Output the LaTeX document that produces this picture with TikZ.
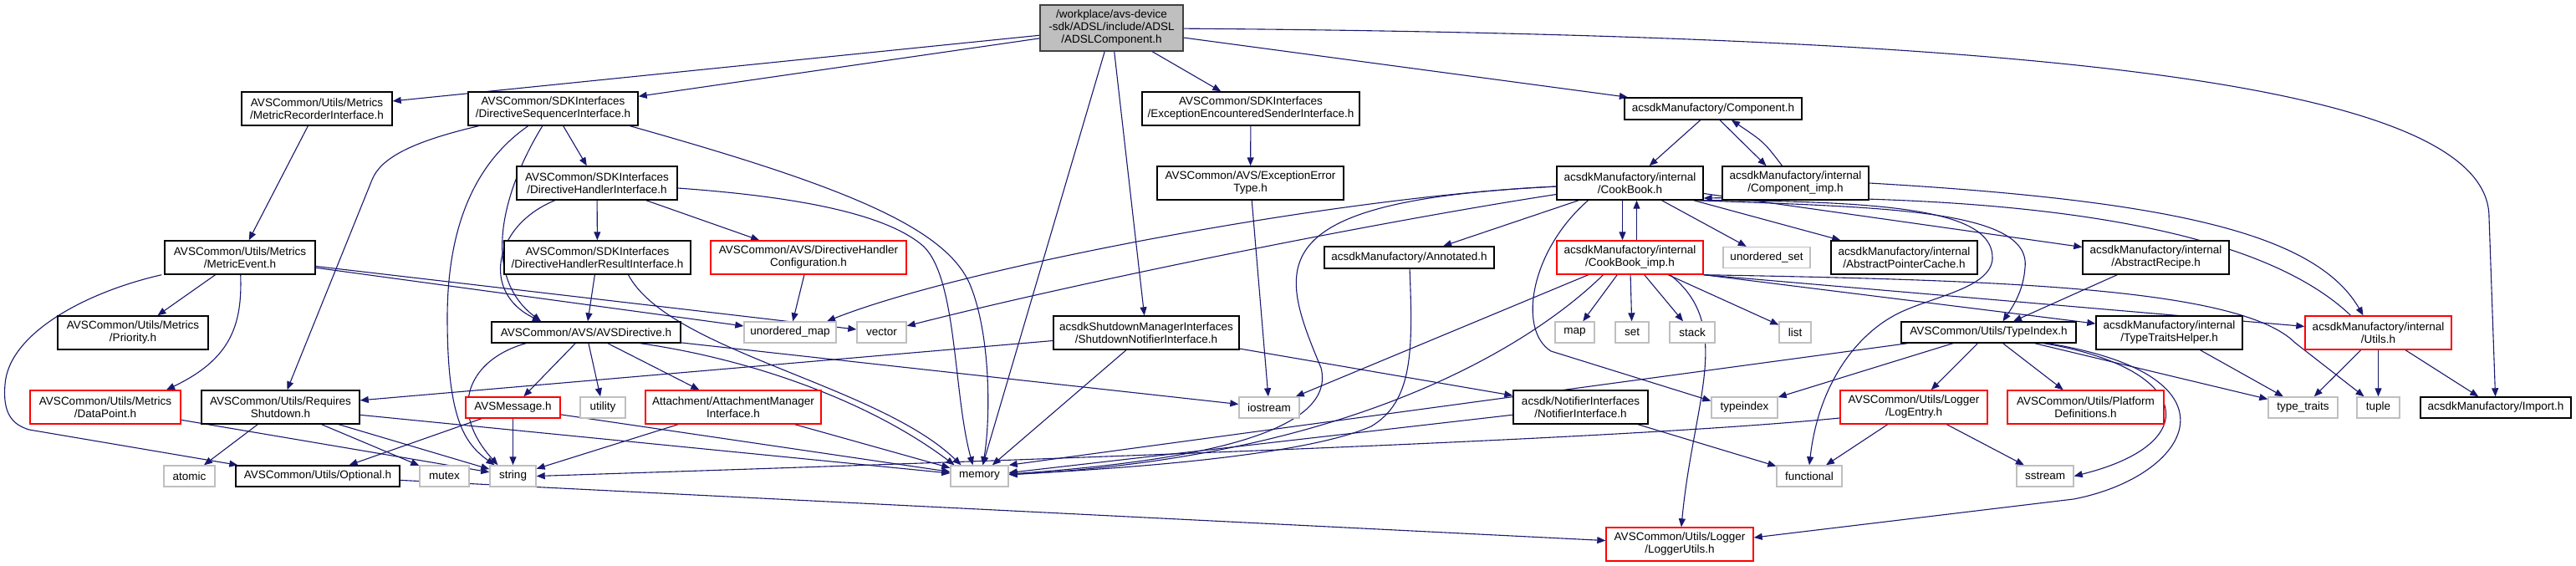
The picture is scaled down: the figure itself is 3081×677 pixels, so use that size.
\documentclass[tikz,border=0pt]{standalone}
\usepackage{fontspec}
\setmainfont{Liberation Sans}
\usetikzlibrary{arrows.meta}
\definecolor{edgeblue}{HTML}{191970}
\definecolor{graybd}{HTML}{BFBFBF}
\definecolor{rootfill}{HTML}{BFBFBF}
\definecolor{rootbd}{HTML}{404040}
\pgfdeclarelayer{bg}
\pgfsetlayers{bg,main}
\tikzset{
  base/.style={rectangle, inner sep=0pt, align=center, font=\fontsize{13.5pt}{15pt}\selectfont, line width=1.4pt, fill=white},
  fnode/.style={base, draw=black},
  rnode/.style={base, draw=red},
  gnode/.style={base, draw=graybd},
  rootn/.style={base, draw=rootbd, fill=rootfill},
  dep/.style={draw=edgeblue, line width=1.1pt, -{Triangle[length=10pt,width=8pt]}}
}
\begin{document}
\begin{tikzpicture}[x=1pt,y=-1pt]
\useasboundingbox (0,0) rectangle (3081,677);
% row 0
\node[rootn, minimum width=171pt, minimum height=55pt] (root) at (1329.5,33.5) {/workplace/avs-device\\-sdk/ADSL/include/ADSL\\/ADSLComponent.h};
% row 1
\node[fnode, minimum width=180pt, minimum height=40pt] (mri) at (379,130) {AVSCommon/Utils/Metrics\\/MetricRecorderInterface.h};
\node[fnode, minimum width=203pt, minimum height=40pt] (dsi) at (661.5,130) {AVSCommon/SDKInterfaces\\/DirectiveSequencerInterface.h};
\node[fnode, minimum width=260pt, minimum height=40pt] (eesi) at (1496,130) {AVSCommon/SDKInterfaces\\/ExceptionEncounteredSenderInterface.h};
\node[fnode, minimum width=212pt, minimum height=26pt] (comp) at (2049,130) {acsdkManufactory/Component.h};
% row 2
\node[fnode, minimum width=192pt, minimum height=40pt] (dhi) at (714,219) {AVSCommon/SDKInterfaces\\/DirectiveHandlerInterface.h};
\node[fnode, minimum width=223pt, minimum height=40pt] (eet) at (1495.5,219) {AVSCommon/AVS/ExceptionError\\Type.h};
\node[fnode, minimum width=175pt, minimum height=40pt] (cookbook) at (1949.5,219) {acsdkManufactory/internal\\/CookBook.h};
\node[fnode, minimum width=175pt, minimum height=40pt] (compimp) at (2147.5,219) {acsdkManufactory/internal\\/Component\_imp.h};
% row 3
\node[fnode, minimum width=180pt, minimum height=40pt] (mev) at (287,308) {AVSCommon/Utils/Metrics\\/MetricEvent.h};
\node[fnode, minimum width=223pt, minimum height=40pt] (dhri) at (714.5,308) {AVSCommon/SDKInterfaces\\/DirectiveHandlerResultInterface.h};
\node[rnode, minimum width=234pt, minimum height=40pt] (dhc) at (967,308) {AVSCommon/AVS/DirectiveHandler\\Configuration.h};
\node[fnode, minimum width=203pt, minimum height=26pt] (annot) at (1685.5,308) {acsdkManufactory/Annotated.h};
\node[rnode, minimum width=175pt, minimum height=40pt] (cbimp) at (1949.5,308) {acsdkManufactory/internal\\/CookBook\_imp.h};
\node[gnode, minimum width=104pt, minimum height=25pt] (uset) at (2113,308) {unordered\_set};
\node[fnode, minimum width=175pt, minimum height=40pt] (apc) at (2277.5,308) {acsdkManufactory/internal\\/AbstractPointerCache.h};
\node[fnode, minimum width=175pt, minimum height=40pt] (arec) at (2578.5,308) {acsdkManufactory/internal\\/AbstractRecipe.h};
% row 4
\node[fnode, minimum width=180pt, minimum height=40pt] (prio) at (159,398) {AVSCommon/Utils/Metrics\\/Priority.h};
\node[fnode, minimum width=226pt, minimum height=25pt] (avsdir) at (701,397.5) {AVSCommon/AVS/AVSDirective.h};
\node[gnode, minimum width=110pt, minimum height=25pt] (umap) at (945,397.5) {unordered\_map};
\node[gnode, minimum width=59pt, minimum height=25pt] (vector) at (1054.5,397.5) {vector};
\node[fnode, minimum width=222pt, minimum height=40pt] (sni) at (1371,398) {acsdkShutdownManagerInterfaces\\/ShutdownNotifierInterface.h};
\node[gnode, minimum width=47pt, minimum height=25pt] (map) at (1883.5,397.5) {map};
\node[gnode, minimum width=40pt, minimum height=25pt] (set) at (1952,397.5) {set};
\node[gnode, minimum width=54pt, minimum height=25pt] (stack) at (2024,397.5) {stack};
\node[gnode, minimum width=38pt, minimum height=25pt] (list) at (2147,397.5) {list};
\node[fnode, minimum width=209pt, minimum height=25pt] (typeidx) at (2378.5,397.5) {AVSCommon/Utils/TypeIndex.h};
\node[fnode, minimum width=175pt, minimum height=40pt] (tth) at (2594.5,398) {acsdkManufactory/internal\\/TypeTraitsHelper.h};
\node[rnode, minimum width=175pt, minimum height=40pt] (utils) at (2844.5,398) {acsdkManufactory/internal\\/Utils.h};
% row 5
\node[rnode, minimum width=180pt, minimum height=40pt] (datap) at (126,487) {AVSCommon/Utils/Metrics\\/DataPoint.h};
\node[fnode, minimum width=189pt, minimum height=40pt] (rs) at (335.5,487) {AVSCommon/Utils/Requires\\Shutdown.h};
\node[rnode, minimum width=113pt, minimum height=25pt] (avsmsg) at (613.5,487.5) {AVSMessage.h};
\node[gnode, minimum width=54pt, minimum height=25pt] (utility) at (721,487.5) {utility};
\node[rnode, minimum width=210pt, minimum height=40pt] (attach) at (877,487) {Attachment/AttachmentManager\\Interface.h};
\node[gnode, minimum width=72pt, minimum height=25pt] (iostream) at (1518,487.5) {iostream};
\node[fnode, minimum width=161pt, minimum height=40pt] (notif) at (1890.5,487) {acsdk/NotifierInterfaces\\/NotifierInterface.h};
\node[gnode, minimum width=79pt, minimum height=25pt] (typeindex) at (2086.5,487.5) {typeindex};
\node[rnode, minimum width=176pt, minimum height=40pt] (logentry) at (2289,487) {AVSCommon/Utils/Logger\\/LogEntry.h};
\node[rnode, minimum width=187pt, minimum height=40pt] (platdef) at (2494.5,487) {AVSCommon/Utils/Platform\\Definitions.h};
\node[gnode, minimum width=83pt, minimum height=25pt] (ttraits) at (2754.5,487.5) {type\_traits};
\node[gnode, minimum width=51pt, minimum height=25pt] (tuple) at (2844.5,487.5) {tuple};
\node[fnode, minimum width=180pt, minimum height=25pt] (import) at (2985,487.5) {acsdkManufactory/Import.h};
% row 6
\node[gnode, minimum width=61pt, minimum height=25pt] (atomic) at (226.5,569.5) {atomic};
\node[fnode, minimum width=196pt, minimum height=25pt] (optional) at (380,569.5) {AVSCommon/Utils/Optional.h};
\node[gnode, minimum width=59pt, minimum height=25pt] (mutex) at (531.5,569.5) {mutex};
\node[gnode, minimum width=55pt, minimum height=25pt] (string) at (613.5,569.5) {string};
\node[gnode, minimum width=69pt, minimum height=25pt] (memory) at (1171.5,569.5) {memory};
\node[gnode, minimum width=78pt, minimum height=25pt] (functional) at (2164,569.5) {functional};
\node[gnode, minimum width=68pt, minimum height=25pt] (sstream) at (2446,569.5) {sstream};
% row 7
\node[rnode, minimum width=176pt, minimum height=40pt] (loggerutils) at (2009,651) {AVSCommon/Utils/Logger\\/LoggerUtils.h};

\begin{pgfonlayer}{bg}
\fill[white] (0,0) rectangle (3081,677);
% root
\draw[dep] (root) -- (mri);
\draw[dep] (root) -- (dsi);
\draw[dep] (root) -- (memory);
\draw[dep] (root) -- (sni);
\draw[dep] (root) -- (eesi);
\draw[dep] (root) -- (comp);
\draw[dep] (root) .. controls (2450,42) and (2977,100) .. (2977,260) -- (import);
% metrics
\draw[dep] (mri) -- (mev);
\draw[dep] (mev) -- (prio);
\draw[dep] (mev) .. controls (290,390) and (275,430) .. ([xshift=73pt]datap.north);
\draw[dep] ([xshift=-3pt]mev.south west) .. controls (100,350) and (10,400) .. (6,460) .. controls (3,495) and (15,508) .. (35,514) -- ([xshift=3pt]optional.north west);
\draw[dep] (mev) -- (umap);
\draw[dep] (mev) -- (vector);
\draw[dep] (datap) -- (string);
% directive sequencer / handler
\draw[dep] (dsi) -- (dhi);
\draw[dep] (dsi) .. controls (575,190) and (535,260) .. (535,380) .. controls (535,500) and (555,530) .. ([xshift=-22pt]string.north);
\draw[dep] (dsi) .. controls (600,230) and (575,330) .. ([xshift=-54pt]avsdir.north);
\draw[dep] ([xshift=-89pt]dsi.south) .. controls (490,170) and (455,190) .. (445,215) -- ([xshift=8pt]rs.north);
\draw[dep] ([xshift=92pt]dsi.south) .. controls (1000,220) and (1130,270) .. (1160,340) .. controls (1185,400) and (1185,500) .. ([xshift=4pt]memory.north);
\draw[dep] (dhi) -- (dhri);
\draw[dep] (dhi) -- (dhc);
\draw[dep] (dhi) .. controls (590,270) and (575,350) .. ([xshift=-54pt]avsdir.north);
\draw[dep] ([yshift=-6pt]dhi.east) .. controls (950,235) and (1060,255) .. (1105,295) .. controls (1145,335) and (1140,470) .. ([xshift=-8pt]memory.north);
\draw[dep] (dhri) -- (avsdir);
\draw[dep] ([xshift=37pt]dhri.south) .. controls (800,420) and (1050,460) .. ([xshift=-22pt]memory.north);
\draw[dep] (dhc) -- (umap);
% requires shutdown
\draw[dep] (rs) -- (atomic);
\draw[dep] (rs) -- (mutex);
\draw[dep] (rs) -- (string);
\draw[dep] (rs) -- (memory);
% AVSDirective
\draw[dep] ([xshift=-72pt]avsdir.south) .. controls (560,430) and (535,490) .. ([xshift=-18pt]string.north);
\draw[dep] (avsdir) -- (avsmsg);
\draw[dep] (avsdir) -- (utility);
\draw[dep] (avsdir) -- (attach);
\draw[dep] ([xshift=65pt]avsdir.south) .. controls (900,430) and (1040,480) .. ([xshift=-30pt]memory.north);
\draw[dep] (avsdir) -- (iostream);
\draw[dep] (avsmsg) -- (optional);
\draw[dep] (avsmsg) -- (string);
\draw[dep] (avsmsg) -- (memory);
\draw[dep] (attach) -- (string);
\draw[dep] (attach) -- (memory);
\draw[dep] (optional) -- (loggerutils);
% shutdown / exception
\draw[dep] (sni) -- (rs);
\draw[dep] (sni) -- (memory);
\draw[dep] (sni) -- (notif);
\draw[dep] (eesi) -- (eet);
\draw[dep] (eet) -- (iostream);
% component
\draw[dep] (comp) -- (cookbook);
\draw[dep] ([xshift=8pt]comp.south) -- ([xshift=-35pt]compimp.north);
\draw[dep] ([xshift=-16pt]compimp.north) .. controls (2110,170) .. ([xshift=22pt]comp.south);
\draw[dep] (compimp.east) .. controls (2600,240) and (2770,280) .. ([xshift=-18pt]utils.north);
% cookbook
\draw[dep] ([xshift=-9pt]cookbook.south) -- ([xshift=-9pt]cbimp.north);
\draw[dep] ([xshift=8pt]cbimp.north) -- ([xshift=8pt]cookbook.south);
\draw[dep] (cookbook) .. controls (1600,235) and (1150,320) .. ([xshift=44pt]umap.north);
\draw[dep] (cookbook) .. controls (1650,265) and (1300,335) .. (vector);
\draw[dep] (cookbook) .. controls (1500,240) and (1530,320) .. (1580,440) .. controls (1600,520) and (1420,552) .. (memory);
\draw[dep] (cookbook) -- (annot);
\draw[dep] ([xshift=-50pt]cookbook.south) .. controls (1830,300) and (1815,395) .. (1855,420) -- ([yshift=8pt]typeindex.west);
\draw[dep] (cookbook) -- (uset);
\draw[dep] (cookbook) -- (apc);
\draw[dep] (cookbook) -- (arec);
\draw[dep] ([xshift=-8pt]cookbook.south east) .. controls (2250,248) and (2430,250) .. (2422,320) .. controls (2420,350) and (2405,370) .. ([xshift=17pt]typeidx.north);
\draw[dep] ([xshift=-4pt]cookbook.south east) .. controls (2280,240) and (2385,255) .. (2383,310) .. controls (2380,345) and (2310,355) .. (2270,375) .. controls (2220,400) and (2175,460) .. (functional.north);
\draw[dep] ([xshift=-33pt]utils.north) .. controls (2720,290) and (2500,230) .. ([yshift=-18pt]cookbook.east);
% cookbook_imp
\draw[dep] (cbimp) -- (iostream);
\draw[dep] ([xshift=-32pt]cbimp.south) .. controls (1845,400) and (1640,545) .. (memory);
\draw[dep] (cbimp) -- (map);
\draw[dep] (cbimp) -- (set);
\draw[dep] (cbimp) -- (stack);
\draw[dep] (cbimp) -- (list);
\draw[dep] ([xshift=48pt]cbimp.south) .. controls (2075,390) and (2025,480) .. (loggerutils);
\draw[dep] (cbimp.south east) .. controls (2400,335) and (2680,345) .. (2745,410) -- (tuple);
\draw[dep] (cbimp.south east) -- (utils);
\draw[dep] (cbimp.south east) -- (tth);
% annotated / notifier
\draw[dep] (annot) .. controls (1690,420) and (1690,480) .. (1640,510) .. controls (1560,545) and (1350,560) .. (memory);
\draw[dep] (notif) -- (memory);
\draw[dep] (notif) -- (functional);
% type index
\draw[dep] (typeidx) -- (memory.north east);
\draw[dep] (typeidx) -- (logentry);
\draw[dep] (typeidx) -- (platdef);
\draw[dep] (typeidx) -- (typeindex);
\draw[dep] (typeidx) -- (ttraits);
\draw[dep] ([xshift=66pt]typeidx.south) .. controls (2620,440) and (2640,530) .. (sstream.east);
\draw[dep] ([xshift=71pt]typeidx.south) .. controls (2690,450) and (2620,570) .. (2480,597) -- ([yshift=8pt]loggerutils.east);
\draw[dep] (arec) -- (typeidx);
% log entry
\draw[dep] ([yshift=-13pt]logentry.west) .. controls (1950,525) and (1300,548) .. (string.east);
\draw[dep] (logentry) -- (functional);
\draw[dep] (logentry) -- (sstream);
% utils
\draw[dep] (tth) -- (ttraits);
\draw[dep] (utils) -- (ttraits);
\draw[dep] (utils) -- (tuple);
\draw[dep] (utils) -- (import);
\end{pgfonlayer}
\end{tikzpicture}
\end{document}
